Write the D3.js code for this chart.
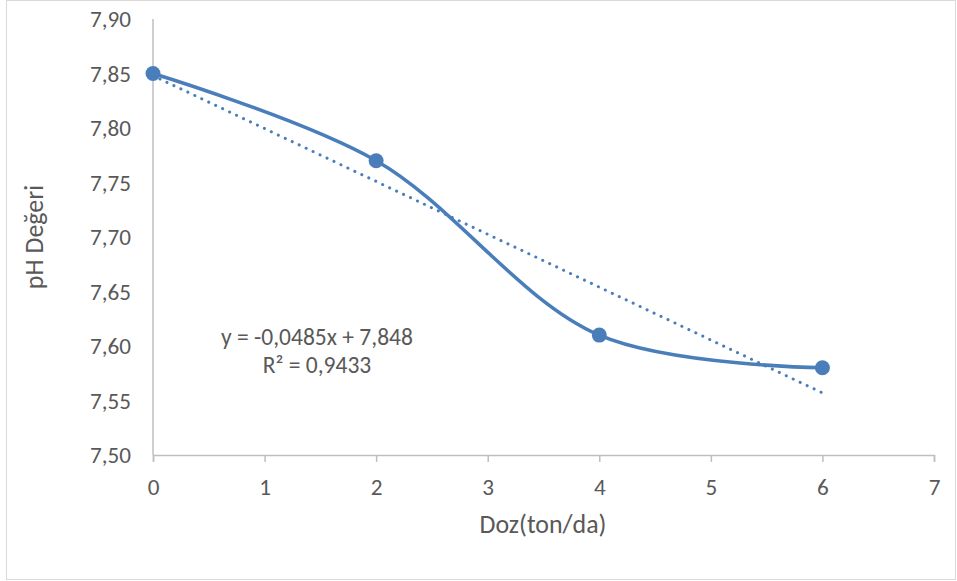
<!DOCTYPE html>
<html><head><meta charset="utf-8">
<script src="https://cdn.jsdelivr.net/npm/d3@7"></script>
<style>body{margin:0;background:#fff}text{font-family:Carlito,Lato,"Open Sans",sans-serif;fill:#595959}</style>
</head><body><svg id="c" width="957" height="581"></svg>
<script>
const doses = [0, 2, 4, 6];
const phValues = [7.85, 7.77, 7.61, 7.58];
const xTicks = [0, 1, 2, 3, 4, 5, 6, 7];
const yTicks = [7.50, 7.55, 7.60, 7.65, 7.70, 7.75, 7.80, 7.85, 7.90];
const trendSlope = -0.0485, trendIntercept = 7.848;
const eqLines = ["y = -0,0485x + 7,848", "R² = 0,9433"];
const xTitle = "Doz(ton/da)", yTitle = "pH Değeri";

const svg = d3.select("#c");
const color = "#4a7ebb";
svg.append("rect").attr("x",6.5).attr("y",0.5).attr("width",949).attr("height",579).attr("fill","#fff").attr("stroke","#d9d9d9");
const x = d3.scaleLinear().domain([0,7]).range([153,934]);
const y = d3.scaleLinear().domain([7.5,7.9]).range([455,19]);
const fmt = v => v.toFixed(2).replace(".", ",");

// scale font so a sample text reaches a target width
function fitSize(sample, target) {
  const t = svg.append("text").style("font-size","20px").text(sample);
  const w = t.node().getComputedTextLength();
  t.remove();
  return 20 * target / w;
}
const tickSize = fitSize("7,90", 41);
const titleSize = fitSize(xTitle, 127);
const eqSize = fitSize(eqLines[0], 192);

// y axis
svg.append("line").attr("x1",x(0)).attr("x2",x(0)).attr("y1",y(7.9)).attr("y2",y(7.5)).attr("stroke","#bfbfbf").attr("stroke-width",1.5);
svg.selectAll(".yt").data(yTicks).enter().append("text").attr("x",131).attr("y",d=>y(d)).attr("dy","0.35em")
  .attr("text-anchor","end").style("font-size",tickSize+"px").text(fmt);
// x axis
const xa = svg.append("g").attr("transform",`translate(0,${y(7.5)})`).call(d3.axisBottom(x).tickValues(xTicks).tickSize(7).tickPadding(0).tickFormat(d3.format("d")));
xa.select(".domain").attr("stroke","#bfbfbf").attr("stroke-width",1.5);
xa.selectAll(".tick line").attr("stroke","#bfbfbf").attr("stroke-width",1.5);
xa.selectAll(".tick text").attr("y",32).attr("dy","0.35em").style("font-size",tickSize+"px").attr("fill","#595959");

// trendline
svg.append("line").attr("x1",x(0)).attr("y1",y(trendIntercept)).attr("x2",x(6)).attr("y2",y(trendIntercept+trendSlope*6))
  .attr("stroke",color).attr("stroke-width",3).attr("stroke-linecap","round").attr("stroke-dasharray","0.1 7.6");

// smooth line
const pts = doses.map((d,i)=>[d,phValues[i]]);
svg.append("path").attr("d", d3.line().x(d=>x(d[0])).y(d=>y(d[1])).curve(d3.curveCatmullRom.alpha(0.5))(pts))
  .attr("fill","none").attr("stroke",color).attr("stroke-width",3.5);
svg.selectAll(".m").data(pts).enter().append("circle").attr("cx",d=>x(d[0])).attr("cy",d=>y(d[1])).attr("r",7.5).attr("fill",color);

// equation
svg.selectAll(".eq").data(eqLines).enter().append("text").attr("x",317).attr("y",(d,i)=>337+i*28).attr("dy","0.35em")
  .attr("text-anchor","middle").style("font-size",eqSize+"px").text(d=>d);
// titles
svg.append("text").attr("x",543).attr("y",524).attr("dy","0.35em").attr("text-anchor","middle").style("font-size",titleSize+"px").text(xTitle);
svg.append("text").attr("transform",`translate(34,237) rotate(-90)`).attr("dy","0.35em").attr("text-anchor","middle").style("font-size",titleSize+"px").text(yTitle);
</script></body></html>
